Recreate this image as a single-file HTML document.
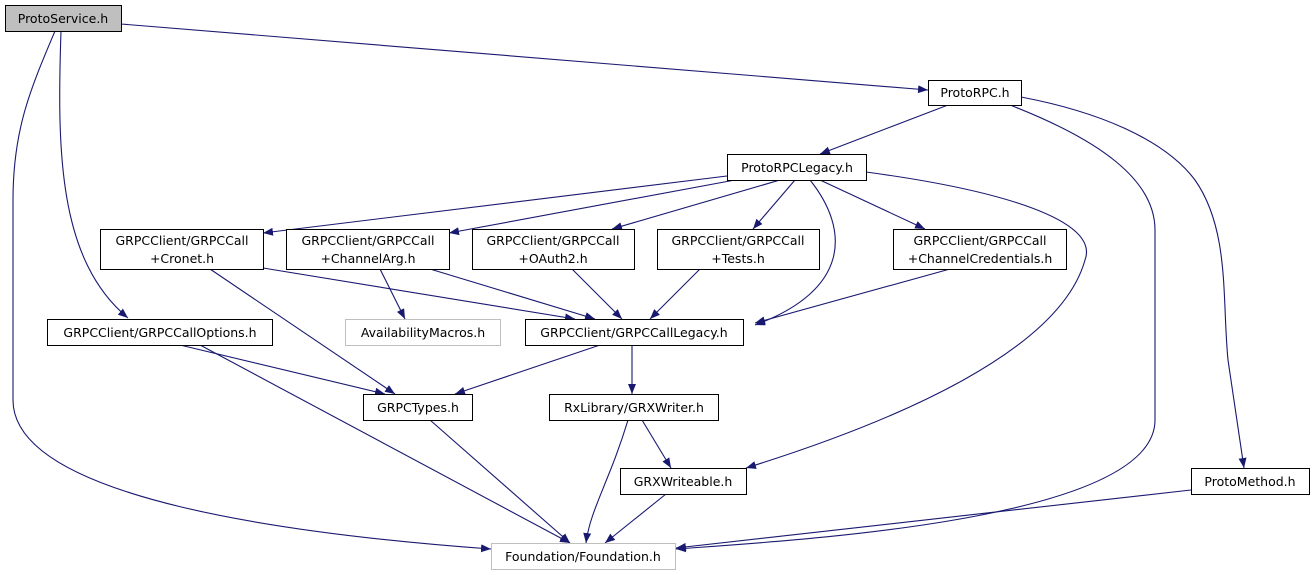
<!DOCTYPE html>
<html><head><meta charset="utf-8"><style>
html,body{margin:0;padding:0;background:#fff;}
svg{display:block;}
text{font-family:"DejaVu Sans","Liberation Sans",sans-serif;font-size:12.5px;fill:#000;}
</style></head><body>
<svg width="1315" height="575" viewBox="0 0 1315 575" xmlns="http://www.w3.org/2000/svg">
<defs>
<marker id="a" viewBox="0 0 10 8" refX="10" refY="4" markerWidth="10" markerHeight="8" markerUnits="userSpaceOnUse" orient="auto">
<path d="M0,0 L10,4 L0,8 z" fill="#191970"/>
</marker>
</defs>
<g fill="none" stroke="#191970" stroke-width="1.1" marker-end="url(#a)">
<path d="M121,24 L928,90"/>
<path d="M61,31 C57,150 58,260 128,318"/>
<path d="M55,31 C30,90 13,130 13,200 L13,400 C13,500 300,535 491,549"/>
<path d="M948,105 L820,154"/>
<path d="M1010,105 C1100,140 1155,180 1155,230 L1155,420 C1155,520 800,540 676,549"/>
<path d="M1021,97 C1100,112 1165,140 1195,180 C1230,230 1222,300 1228,360 L1244,468"/>
<path d="M727,176 L263,233"/>
<path d="M735,180 L449,233"/>
<path d="M780,180 L612,229"/>
<path d="M795,180 L753,229"/>
<path d="M820,180 L925,229"/>
<path d="M810,180 C850,230 850,290 755,325"/>
<path d="M866,172 C1000,190 1100,220 1085,260 C1060,350 900,420 746,468"/>
<path d="M263,268 L575,319"/>
<path d="M210,269 L395,394"/>
<path d="M380,269 L405,319"/>
<path d="M430,269 L595,319"/>
<path d="M572,269 L622,319"/>
<path d="M700,269 L650,319"/>
<path d="M950,269 L755,323"/>
<path d="M180,345 L385,394"/>
<path d="M200,345 L570,543"/>
<path d="M600,345 L455,394"/>
<path d="M632,345 L632,394"/>
<path d="M430,420 L570,543"/>
<path d="M628,420 C610,480 590,510 586,543"/>
<path d="M642,420 L671,468"/>
<path d="M666,494 L605,543"/>
<path d="M1191,490 L676,548"/>
</g>
<g stroke-width="1">
<rect x="5.5" y="5.5" width="116" height="26" fill="#bfbfbf" stroke="#000"/>
<rect x="928.5" y="80.5" width="93" height="25" fill="#fff" stroke="#000"/>
<rect x="727.5" y="154.5" width="139" height="26" fill="#fff" stroke="#000"/>
<rect x="100.5" y="229.5" width="163" height="40" fill="#fff" stroke="#000"/>
<rect x="286.5" y="229.5" width="163" height="40" fill="#fff" stroke="#000"/>
<rect x="472.5" y="229.5" width="162" height="40" fill="#fff" stroke="#000"/>
<rect x="657.5" y="229.5" width="162" height="40" fill="#fff" stroke="#000"/>
<rect x="893.5" y="229.5" width="173" height="40" fill="#fff" stroke="#000"/>
<rect x="47.5" y="319.5" width="225" height="26" fill="#fff" stroke="#000"/>
<rect x="345.5" y="319.5" width="155" height="26" fill="#fff" stroke="#bfbfbf"/>
<rect x="525.5" y="319.5" width="218" height="26" fill="#fff" stroke="#000"/>
<rect x="363.5" y="394.5" width="109" height="26" fill="#fff" stroke="#000"/>
<rect x="549.5" y="394.5" width="169" height="26" fill="#fff" stroke="#000"/>
<rect x="620.5" y="468.5" width="126" height="26" fill="#fff" stroke="#000"/>
<rect x="1191.5" y="468.5" width="118" height="26" fill="#fff" stroke="#000"/>
<rect x="491.5" y="543.5" width="184" height="26" fill="#fff" stroke="#bfbfbf"/>
</g>
<g text-anchor="middle">
<text x="63" y="23">ProtoService.h</text>
<text x="975" y="97">ProtoRPC.h</text>
<text x="797" y="172">ProtoRPCLegacy.h</text>
<text x="182" y="245">GRPCClient/GRPCCall</text><text x="182" y="263">+Cronet.h</text>
<text x="368" y="245">GRPCClient/GRPCCall</text><text x="368" y="263">+ChannelArg.h</text>
<text x="553" y="245">GRPCClient/GRPCCall</text><text x="553" y="263">+OAuth2.h</text>
<text x="738" y="245">GRPCClient/GRPCCall</text><text x="738" y="263">+Tests.h</text>
<text x="980" y="245">GRPCClient/GRPCCall</text><text x="980" y="263">+ChannelCredentials.h</text>
<text x="160" y="337">GRPCClient/GRPCCallOptions.h</text>
<text x="423" y="337">AvailabilityMacros.h</text>
<text x="634" y="337">GRPCClient/GRPCCallLegacy.h</text>
<text x="418" y="412">GRPCTypes.h</text>
<text x="634" y="412">RxLibrary/GRXWriter.h</text>
<text x="683" y="486">GRXWriteable.h</text>
<text x="1250" y="486">ProtoMethod.h</text>
<text x="583" y="561">Foundation/Foundation.h</text>
</g>
</svg>
</body></html>
